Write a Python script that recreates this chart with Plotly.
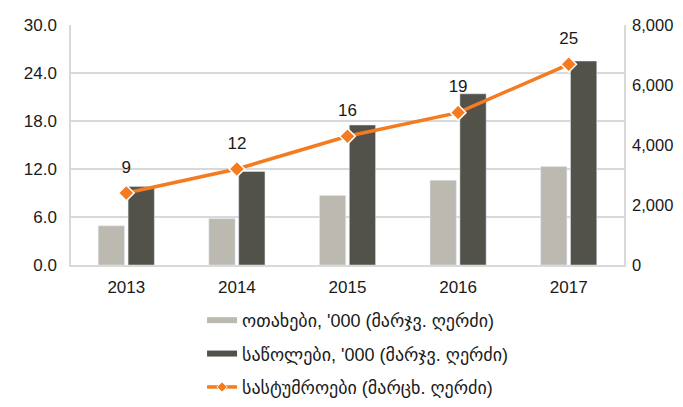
import plotly.graph_objects as go

years = ["2013", "2014", "2015", "2016", "2017"]
rooms = [4.9, 5.8, 8.7, 10.6, 12.3]
beds = [9.8, 11.7, 17.5, 21.4, 25.5]
hotels = [2400, 3200, 4290, 5080, 6690]
hotel_labels = ["9", "12", "16", "19", "25"]

name_rooms = "ოთახები, '000 (მარჯვ. ღერძი)"
name_beds = "საწოლები, '000 (მარჯვ. ღერძი)"
name_hotels = "სასტუმროები (მარცხ. ღერძი)"

c_light = "#BCB9B0"
c_dark = "#52524A"
c_orange = "#F47B20"
font = "Arial, Liberation Sans, DejaVu Sans, sans-serif"

fig = go.Figure()
fig.add_trace(go.Bar(x=years, y=rooms, marker_color=c_light, showlegend=False))
fig.add_trace(go.Bar(x=years, y=beds, marker_color=c_dark, showlegend=False))
fig.add_trace(go.Scatter(x=years, y=hotels, yaxis="y2", mode="lines+markers",
                         showlegend=False,
                         line=dict(color=c_orange, width=3.5),
                         marker=dict(symbol="diamond", size=12, color=c_orange,
                                     line=dict(color="white", width=1.5))))
# data labels (text offset by an invisible marker)
fig.add_trace(go.Scatter(x=years, y=hotels, yaxis="y2", mode="markers+text",
                         text=hotel_labels, textposition="top center",
                         textfont=dict(size=17, color="#1a1a1a"), cliponaxis=False,
                         marker=dict(size=24, color="rgba(0,0,0,0)"),
                         showlegend=False, hoverinfo="skip"))
# legend-only entries
fig.add_trace(go.Scatter(x=[years[0]], y=[None], mode="lines", name=name_rooms,
                         legendgroup="a", line=dict(color=c_light, width=6)))
fig.add_trace(go.Scatter(x=[years[0]], y=[None], mode="lines", name=name_beds,
                         legendgroup="b", line=dict(color=c_dark, width=6)))
fig.add_trace(go.Scatter(x=[years[0]], y=[None], yaxis="y2", mode="lines+markers",
                         name=name_hotels, legendgroup="c",
                         line=dict(color=c_orange, width=3.5),
                         marker=dict(symbol="diamond", size=8, color=c_orange,
                                     line=dict(color="white", width=1))))

fig.update_layout(
    width=683, height=407,
    margin=dict(l=63, r=67, t=17, b=150, autoexpand=False),
    paper_bgcolor="white", plot_bgcolor="white",
    font=dict(family=font, size=17, color="#1a1a1a"),
    barmode="group", bargap=0.46, bargroupgap=0.12,
    xaxis=dict(type="category", showgrid=False, showline=True, linecolor="#D9D9D9",
               linewidth=1.5, ticks="outside", ticklen=6, tickcolor="rgba(0,0,0,0)"),
    yaxis=dict(range=[0, 30], tickvals=[0, 6, 12, 18, 24, 30], tickformat=".1f",
               showgrid=True, gridcolor="#D9D9D9", gridwidth=1.5,
               showline=True, linecolor="#D9D9D9", linewidth=1.5,
               zeroline=False, ticks="outside", ticklen=9, tickcolor="rgba(0,0,0,0)"),
    yaxis2=dict(range=[0, 8000], tickvals=[0, 2000, 4000, 6000, 8000], tickformat=",",
                overlaying="y", side="right", showgrid=False,
                showline=True, linecolor="#D9D9D9", linewidth=1.5,
                tickfont=dict(size=16.5),
                zeroline=False, ticks="outside", ticklen=3, tickcolor="rgba(0,0,0,0)"),
    legend=dict(orientation="v", x=0.237, xanchor="left", y=-0.154, yanchor="top",
                font=dict(size=18, family=font), traceorder="grouped",
                tracegroupgap=7, bgcolor="rgba(0,0,0,0)"),
)

fig.write_html("out.html")
